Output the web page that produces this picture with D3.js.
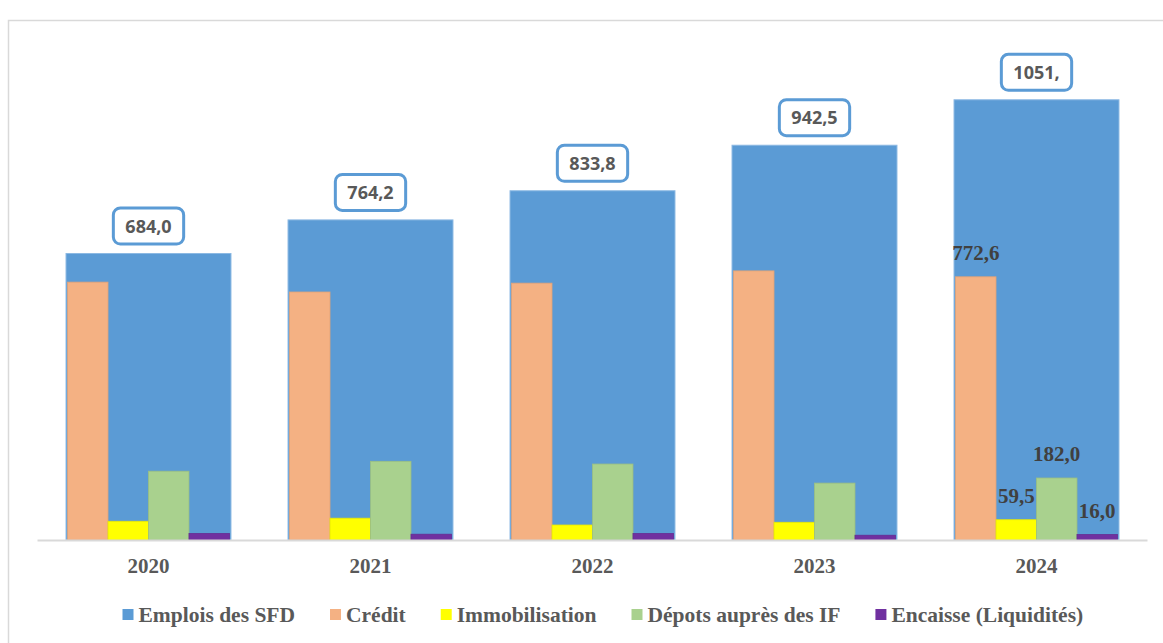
<!DOCTYPE html>
<html lang="fr">
<head>
<meta charset="utf-8">
<title>Emplois des SFD 2020-2024</title>
<script src="https://cdn.jsdelivr.net/npm/d3@7/dist/d3.min.js"></script>
<style>
  html, body { margin: 0; padding: 0; background: #ffffff; }
  svg { display: block; }
</style>
</head>
<body>
<svg id="chart" width="1163" height="643"></svg>
<script>
// Years on the category axis
const years = ["2020", "2021", "2022", "2023", "2024"];

// Total uses (primary axis) and their boxed labels
const emplois = [684.0, 764.2, 833.8, 942.5, 1051.0];
const emploisLabels = ["684,0", "764,2", "833,8", "942,5", "1051,"];

// Components (secondary axis)
const credit = [757.0, 728.0, 754.0, 790.0, 772.6];
const immobilisation = [55.0, 64.0, 44.0, 52.0, 59.5];
const depots = [202.0, 231.0, 223.0, 167.0, 182.0];
const encaisse = [19.0, 17.0, 19.0, 14.0, 16.0];

// Series names and colours
const seriesNames = ["Emplois des SFD", "Crédit", "Immobilisation", "Dépots auprès des IF", "Encaisse (Liquidités)"];
const seriesColors = ["#5b9bd5", "#f4b183", "#ffff00", "#a9d18e", "#7030a0"];

// Year whose component values are labelled
const labelledYear = "2024";

const svg = d3.select("#chart");
const W = 1163, H = 643;
const baseY = 540;

const fmt = v => d3.format(".1f")(v).replace(".", ",");

// Chart frame
svg.append("rect").attr("x", 0).attr("y", 0).attr("width", W).attr("height", H).attr("fill", "#ffffff");
svg.append("rect")
  .attr("x", 8.5).attr("y", 20.5)
  .attr("width", W + 10).attr("height", H + 10)
  .attr("fill", "none").attr("stroke", "#d9d9d9").attr("stroke-width", 1.5);

// Scales
const x = d3.scaleBand().domain(years).range([37.5, 1147.5]).paddingInner(0.257).paddingOuter(0.1285);
const y1 = d3.scaleLinear().domain([0, 1220]).range([baseY, 29]);
const y2 = d3.scaleLinear().domain([0, 1500]).range([baseY, 29]);

const compKeys = ["credit", "immobilisation", "depots", "encaisse"];
const compValues = { credit, immobilisation, depots, encaisse };
const xs = d3.scaleBand().domain(compKeys).range([1.5, x.bandwidth() - 1.5]).padding(0);

// Primary bars
const g = svg.append("g");
g.selectAll("rect.emplois")
  .data(years)
  .join("rect")
  .attr("class", "emplois")
  .attr("x", d => x(d))
  .attr("y", (d, i) => y1(emplois[i]))
  .attr("width", x.bandwidth())
  .attr("height", (d, i) => baseY - y1(emplois[i]))
  .attr("fill", seriesColors[0])
  .attr("stroke", "#8cb9e3")
  .attr("stroke-width", 1);

// Component bars
compKeys.forEach((k, ki) => {
  const vals = compValues[k];
  g.selectAll("rect." + k)
    .data(years)
    .join("rect")
    .attr("class", k)
    .attr("x", d => x(d) + xs(k))
    .attr("y", (d, i) => y2(vals[i]))
    .attr("width", xs.bandwidth())
    .attr("height", (d, i) => baseY - y2(vals[i]))
    .attr("fill", seriesColors[ki + 1])
    .attr("stroke", d3.color(seriesColors[ki + 1]).darker(0.25))
    .attr("stroke-width", 0.8);
});

// Category axis line
svg.append("line")
  .attr("x1", 37.5).attr("x2", 1147.5)
  .attr("y1", baseY + 0.5).attr("y2", baseY + 0.5)
  .attr("stroke", "#d9d9d9").attr("stroke-width", 2);

// Year labels
const xAxis = d3.axisBottom(x).tickSize(0).tickPadding(0);
const ax = svg.append("g").attr("transform", `translate(0,${baseY})`).call(xAxis);
ax.select(".domain").remove();
ax.selectAll("text")
  .attr("dy", null)
  .attr("y", 33)
  .attr("font-family", "'Liberation Serif', 'Times New Roman', serif")
  .attr("font-weight", "bold")
  .attr("font-size", 21)
  .attr("fill", "#595959");

// Boxed total labels
const boxes = svg.append("g");
years.forEach((yr, i) => {
  const cx = x(yr) + x.bandwidth() / 2;
  const top = y1(emplois[i]);
  const bh = 36;
  const bottom = top - 9.5;
  const gg = boxes.append("g");
  const t = gg.append("text")
    .attr("x", cx)
    .attr("y", bottom - bh / 2 + 6.5)
    .attr("text-anchor", "middle")
    .attr("font-family", "'Open Sans', sans-serif")
    .attr("font-weight", "bold")
    .attr("font-size", 18)
    .attr("fill", "#595959")
    .text(emploisLabels[i]);
  const tw = t.node().getComputedTextLength();
  const bw = tw + 24;
  gg.insert("rect", "text")
    .attr("x", cx - bw / 2)
    .attr("y", bottom - bh)
    .attr("width", bw)
    .attr("height", bh)
    .attr("rx", 7).attr("ry", 7)
    .attr("fill", "#ffffff")
    .attr("stroke", "#5b9bd5")
    .attr("stroke-width", 3);
});

// Component value labels for the last year
const li = years.indexOf(labelledYear);
compKeys.forEach(k => {
  const v = compValues[k][li];
  svg.append("text")
    .attr("x", x(labelledYear) + xs(k) + xs.bandwidth() / 2)
    .attr("y", y2(v) - 16.5)
    .attr("text-anchor", "middle")
    .attr("font-family", "'Liberation Serif', 'Times New Roman', serif")
    .attr("font-weight", "bold")
    .attr("font-size", 21)
    .attr("fill", "#404040")
    .text(fmt(v));
});

// Legend
const legend = svg.append("g").attr("transform", "translate(122.5,0)");
let lx = 0;
seriesNames.forEach((name, i) => {
  legend.append("rect")
    .attr("x", lx).attr("y", 609)
    .attr("width", 11).attr("height", 11)
    .attr("fill", seriesColors[i]);
  const t = legend.append("text")
    .attr("x", lx + 16)
    .attr("y", 621.5)
    .attr("font-family", "'Liberation Serif', 'Times New Roman', serif")
    .attr("font-weight", "bold")
    .attr("font-size", 21.5)
    .attr("fill", "#595959")
    .text(name);
  lx += 16 + t.node().getComputedTextLength() + 35;
});
</script>
</body>
</html>
